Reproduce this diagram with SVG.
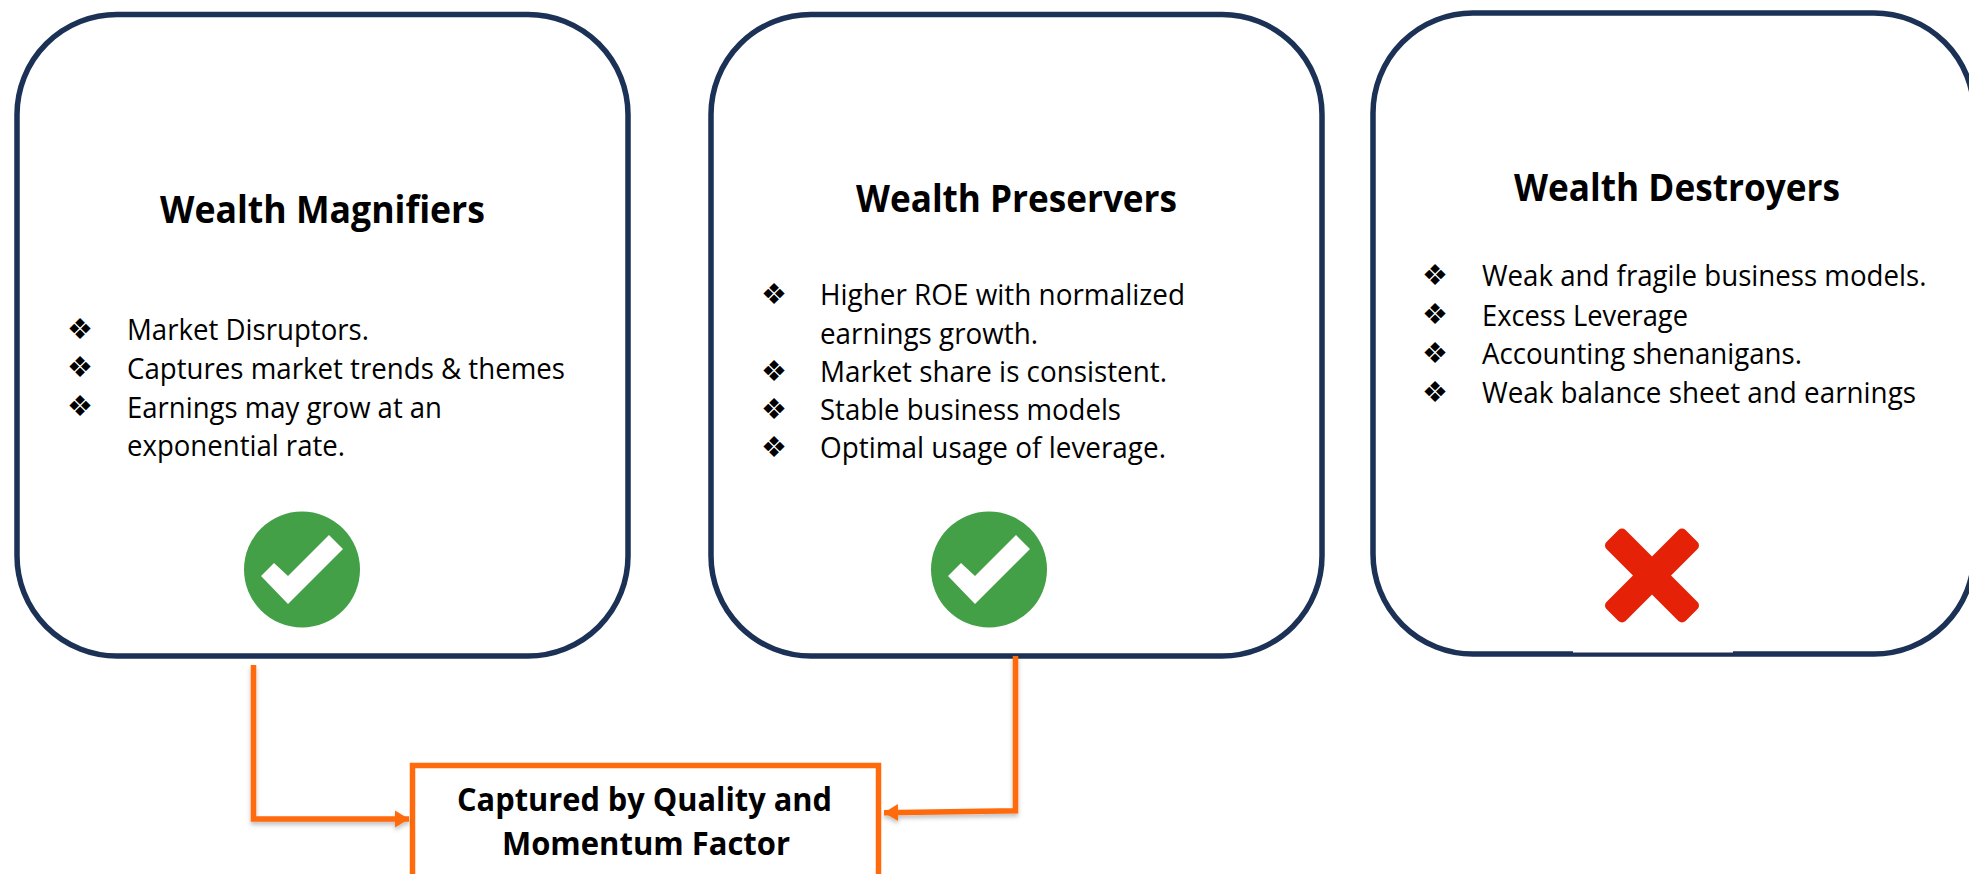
<svg xmlns="http://www.w3.org/2000/svg" width="1969" height="874" viewBox="0 0 1969 874">
<defs>
<style>
.card{fill:#fff;stroke:#1b3155;stroke-width:5.5}
text{font-family:"Open Sans","Liberation Sans",sans-serif;fill:#000}
.h{font-size:38px;font-weight:700}
.b{font-size:29px}
.m{font-size:32.5px;font-weight:700}
.g{font-family:"DejaVu Sans",sans-serif;font-size:29px}
.conn{fill:none;stroke:#ff6a0d;stroke-width:5.500;filter:url(#sh)}
.tick{fill:#fff}
</style>
<filter id="sh" x="-20%" y="-20%" width="140%" height="140%"><feDropShadow dx="0" dy="3" stdDeviation="2" flood-color="#000" flood-opacity="0.25"/></filter>
<marker id="arr" markerUnits="userSpaceOnUse" markerWidth="15" markerHeight="18" refX="14" refY="9" orient="auto"><path d="M0 0.500L14 9L0 17.500Z" fill="#ff6a0d"/></marker>
</defs>
<rect width="1969" height="874" fill="#fff"/>
<g id="magnifiers">
<rect class="card" x="17" y="14.500" width="611" height="641.500" rx="100"/>
<text class="h" x="160" y="223" textLength="325" lengthAdjust="spacingAndGlyphs">Wealth Magnifiers</text>
<text class="g" x="67" y="339">❖</text><text class="b" x="127" y="340" textLength="242" lengthAdjust="spacingAndGlyphs">Market Disruptors.</text>
<text class="g" x="67" y="377">❖</text><text class="b" x="127" y="378.500" textLength="438" lengthAdjust="spacingAndGlyphs">Captures market trends &amp; themes</text>
<text class="g" x="67" y="416">❖</text><text class="b" x="127" y="417.500" textLength="315" lengthAdjust="spacingAndGlyphs">Earnings may grow at an</text>
<text class="b" x="127" y="455.500" textLength="218" lengthAdjust="spacingAndGlyphs">exponential rate.</text>
<circle cx="302" cy="569.500" r="58" fill="#43a047"/>
<path class="tick" d="M261 576L274 563L288 576L329 535L343 549L288 604Z"/>
</g>
<g id="preservers">
<rect class="card" x="711" y="14.500" width="611" height="641.500" rx="100"/>
<text class="h" x="856" y="212" textLength="321" lengthAdjust="spacingAndGlyphs">Wealth Preservers</text>
<text class="g" x="761" y="304">❖</text><text class="b" x="820" y="305" textLength="365" lengthAdjust="spacingAndGlyphs">Higher ROE with normalized</text>
<text class="b" x="820" y="343.500" textLength="218" lengthAdjust="spacingAndGlyphs">earnings growth.</text>
<text class="g" x="761" y="381">❖</text><text class="b" x="820" y="382" textLength="347" lengthAdjust="spacingAndGlyphs">Market share is consistent.</text>
<text class="g" x="761" y="419">❖</text><text class="b" x="820" y="420" textLength="301" lengthAdjust="spacingAndGlyphs">Stable business models</text>
<text class="g" x="761" y="457">❖</text><text class="b" x="820" y="458" textLength="346" lengthAdjust="spacingAndGlyphs">Optimal usage of leverage.</text>
<circle cx="989" cy="569.500" r="58" fill="#43a047"/>
<path class="tick" d="M948 576L961 563L975 576L1016 535L1030 549L975 604Z"/>
</g>
<g id="destroyers">
<rect class="card" x="1373" y="13" width="601" height="641" rx="100"/>
<rect x="1573" y="648" width="160" height="4.500" fill="#fff"/>
<text class="h" x="1514" y="200.500" textLength="326" lengthAdjust="spacingAndGlyphs">Wealth Destroyers</text>
<text class="g" x="1422" y="285">❖</text><text class="b" x="1482" y="286" textLength="444.500" lengthAdjust="spacingAndGlyphs">Weak and fragile business models.</text>
<text class="g" x="1422" y="324">❖</text><text class="b" x="1482" y="325.500" textLength="206" lengthAdjust="spacingAndGlyphs">Excess Leverage</text>
<text class="g" x="1422" y="363">❖</text><text class="b" x="1482" y="364" textLength="320" lengthAdjust="spacingAndGlyphs">Accounting shenanigans.</text>
<text class="g" x="1422" y="402">❖</text><text class="b" x="1482" y="403" textLength="434" lengthAdjust="spacingAndGlyphs">Weak balance sheet and earnings</text>
<path transform="translate(1652 575.500)" d="M0 -12L30 -42L42 -30L12 0L42 30L30 42L0 12L-30 42L-42 30L-12 0L-42 -30L-30 -42Z" fill="#e52207" stroke="#e52207" stroke-width="10" stroke-linejoin="round"/>
</g>
<g id="captured">
<rect x="412.500" y="765.500" width="466" height="130" fill="#fff" stroke="#ff6a0d" stroke-width="5.500"/>
<text class="m" x="457" y="811" textLength="375" lengthAdjust="spacingAndGlyphs">Captured by Quality and</text>
<text class="m" x="502" y="855" textLength="288" lengthAdjust="spacingAndGlyphs">Momentum Factor</text>
</g>
<g id="connectors">
<path class="conn" d="M253.500 665V819H409" marker-end="url(#arr)"/>
<path class="conn" d="M1015.500 656V810.700L884 812.700" marker-end="url(#arr)"/>
</g>
</svg>
